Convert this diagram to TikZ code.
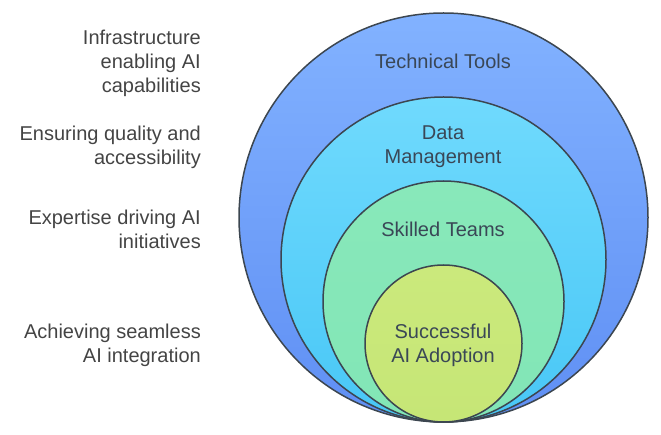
\documentclass[tikz,border=0pt]{standalone}
\usepackage{fontspec}
\setmainfont{Liberation Sans}
\begin{document}
\begin{tikzpicture}[x=1pt,y=-1pt,
  ring/.style={circle, draw=ringline, line width=1.5pt, inner sep=0pt},
  ctext/.style={text=labeldark, align=center, font=\fontsize{20}{24}\selectfont},
  ltext/.style={text=sidegray, align=right, anchor=east, inner sep=0pt, font=\fontsize{20}{24}\selectfont}]
\definecolor{ringline}{HTML}{3C4650}
\definecolor{labeldark}{HTML}{3A4756}
\definecolor{sidegray}{HTML}{444444}
\definecolor{blueA}{HTML}{82B2FF}
\definecolor{blueB}{HTML}{5F8FF4}
\definecolor{cyanA}{HTML}{70DAFD}
\definecolor{cyanB}{HTML}{48C7F6}
\definecolor{greenA}{HTML}{88E8BA}
\definecolor{greenB}{HTML}{82E6B6}
\definecolor{limeA}{HTML}{CBE97C}
\definecolor{limeB}{HTML}{C6E676}
\useasboundingbox (0,0) rectangle (661,435);
\node[ring, minimum size=409pt, top color=blueA, bottom color=blueB] (c1) at (443.5,217.5) {};
\node[ring, minimum size=325pt, top color=cyanA, bottom color=cyanB] (c2) at (443.5,259.5) {};
\node[ring, minimum size=241pt, top color=greenA, bottom color=greenB] (c3) at (443.5,301.5) {};
\node[ring, minimum size=157pt, top color=limeA, bottom color=limeB] (c4) at (443.5,343.5) {};
\node[ctext] (t1) at (443,61) {Technical Tools};
\node[ctext] (t2) at (443,147) {Data\\Management};
\node[ctext] (t3) at (443,229) {Skilled Teams};
\node[ctext] (t4) at (443,345) {Successful\\AI Adoption};
\node[ltext] (l1) at (201,63) {Infrastructure\\enabling AI\\capabilities};
\node[ltext] (l2) at (201,147) {Ensuring quality and\\accessibility};
\node[ltext] (l3) at (201,229) {Expertise driving AI\\initiatives};
\node[ltext] (l4) at (201,345) {Achieving seamless\\AI integration};
\end{tikzpicture}
\end{document}
